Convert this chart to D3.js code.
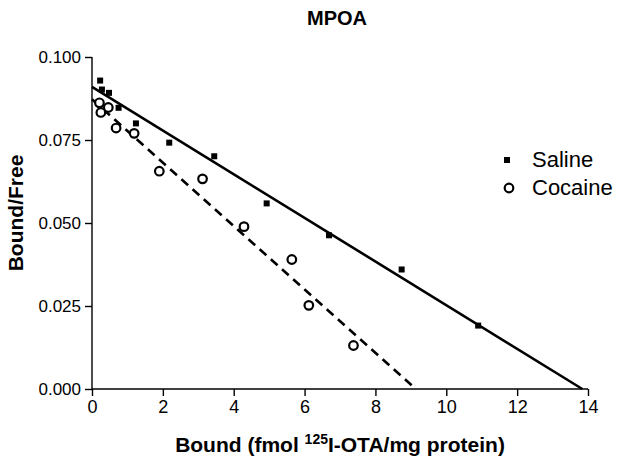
<!DOCTYPE html>
<html>
<head>
<meta charset="utf-8">
<script src="https://cdn.jsdelivr.net/npm/d3@7"></script>
<style>
  html, body { margin: 0; padding: 0; background: #fff; }
  svg { display: block; }
  text { font-family: "Liberation Sans", Arial, Helvetica, sans-serif; fill: #000; }
</style>
</head>
<body>
<svg id="chart" width="624" height="463"></svg>
<script>
// ---- data ----
const salineX = [0.23, 0.28, 0.48, 0.75, 1.24, 2.18, 3.45, 4.93, 6.69, 8.74, 10.90];
const salineY = [0.0929, 0.0902, 0.0892, 0.0847, 0.0800, 0.0742, 0.0701, 0.0559, 0.0463, 0.0360, 0.0191];
const cocaineX = [0.21, 0.46, 0.25, 0.68, 1.19, 1.90, 3.12, 4.29, 5.64, 6.12, 7.38];
const cocaineY = [0.0862, 0.0848, 0.0833, 0.0786, 0.0770, 0.0656, 0.0633, 0.0489, 0.0390, 0.0252, 0.0131];
// Scatchard lines: [y-intercept, x-intercept]
const salineLine = [0.0910, 13.84];
const cocaineLine = [0.0873, 9.14];
const xTicks = [0, 2, 4, 6, 8, 10, 12, 14];
const yTicks = [0, 0.025, 0.05, 0.075, 0.1];
const seriesNames = ["Saline", "Cocaine"];
const titleText = "MPOA";

// ---- layout ----
const svg = d3.select("#chart");
const mLeft = 92, mRight = 588, mTop = 57, mBottom = 389;
const x = d3.scaleLinear().domain([0, 14]).range([mLeft, mRight]);
const y = d3.scaleLinear().domain([0, 0.1]).range([mBottom, mTop]);

// axes
const xAxis = d3.axisBottom(x).tickValues(xTicks).tickFormat(d3.format("d")).tickSize(7).tickPadding(4);
const yAxis = d3.axisLeft(y).tickValues(yTicks).tickFormat(d3.format(".3f")).tickSize(7).tickPadding(4);

const gx = svg.append("g").attr("transform", `translate(0,${mBottom})`).call(xAxis);
const gy = svg.append("g").attr("transform", `translate(${mLeft},0)`).call(yAxis);
[gx, gy].forEach(g => {
  g.select(".domain").attr("stroke", "#000").attr("stroke-width", 1.4);
  g.selectAll(".tick line").attr("stroke", "#000").attr("stroke-width", 1.4);
  g.selectAll(".tick text").attr("font-size", 17).attr("font-family", "Liberation Sans, Arial, sans-serif").attr("fill", "#000");
});
gx.selectAll(".tick text").attr("font-size", 18);
gx.select(".domain").attr("d", `M${mLeft},0H${mRight}`);
gy.select(".domain").attr("d", `M0,${mBottom}V${mTop}`);

// lines
const lineGen = d3.line().x(d => x(d[0])).y(d => y(d[1]));
svg.append("path")
  .attr("d", lineGen([[0, salineLine[0]], [salineLine[1], 0]]))
  .attr("stroke", "#000").attr("stroke-width", 2.6).attr("fill", "none");
svg.append("path")
  .attr("d", lineGen([[0, cocaineLine[0]], [cocaineLine[1], 0]]))
  .attr("stroke", "#000").attr("stroke-width", 2.6).attr("fill", "none")
  .attr("stroke-dasharray", "9,6");

// saline squares
const sq = 6;
svg.append("g").selectAll("rect").data(salineX.map((d, i) => [d, salineY[i]]))
  .join("rect")
  .attr("x", d => x(d[0]) - sq / 2).attr("y", d => y(d[1]) - sq / 2)
  .attr("width", sq).attr("height", sq).attr("fill", "#000");

// cocaine circles
svg.append("g").selectAll("circle").data(cocaineX.map((d, i) => [d, cocaineY[i]]))
  .join("circle")
  .attr("cx", d => x(d[0])).attr("cy", d => y(d[1]))
  .attr("r", 4.3).attr("fill", "#fff").attr("stroke", "#000").attr("stroke-width", 2.2);

// title
svg.append("text").attr("x", 337).attr("y", 25).attr("text-anchor", "middle")
  .attr("font-size", 20).attr("font-weight", "bold").text(titleText);

// y label
svg.append("text").attr("transform", `translate(23,213) rotate(-90)`)
  .attr("text-anchor", "middle").attr("font-size", 21).attr("font-weight", "bold").text("Bound/Free");

// x label
const xl = svg.append("text").attr("x", (mLeft + mRight) / 2).attr("y", 452).attr("text-anchor", "middle")
  .attr("font-size", 21).attr("font-weight", "bold");
xl.append("tspan").text("Bound (fmol ");
xl.append("tspan").attr("font-size", 14).attr("dy", -8).text("125");
xl.append("tspan").attr("dy", 8).text("I-OTA/mg protein)");

// legend
const lg = svg.append("g");
lg.append("rect").attr("x", 507 - 3).attr("y", 160 - 3).attr("width", 6).attr("height", 6).attr("fill", "#000");
lg.append("circle").attr("cx", 509).attr("cy", 188).attr("r", 4.3).attr("fill", "#fff").attr("stroke", "#000").attr("stroke-width", 2.2);
lg.append("text").attr("x", 532).attr("y", 167).attr("font-size", 22).text(seriesNames[0]);
lg.append("text").attr("x", 532).attr("y", 195).attr("font-size", 22).text(seriesNames[1]);
</script>
</body>
</html>
